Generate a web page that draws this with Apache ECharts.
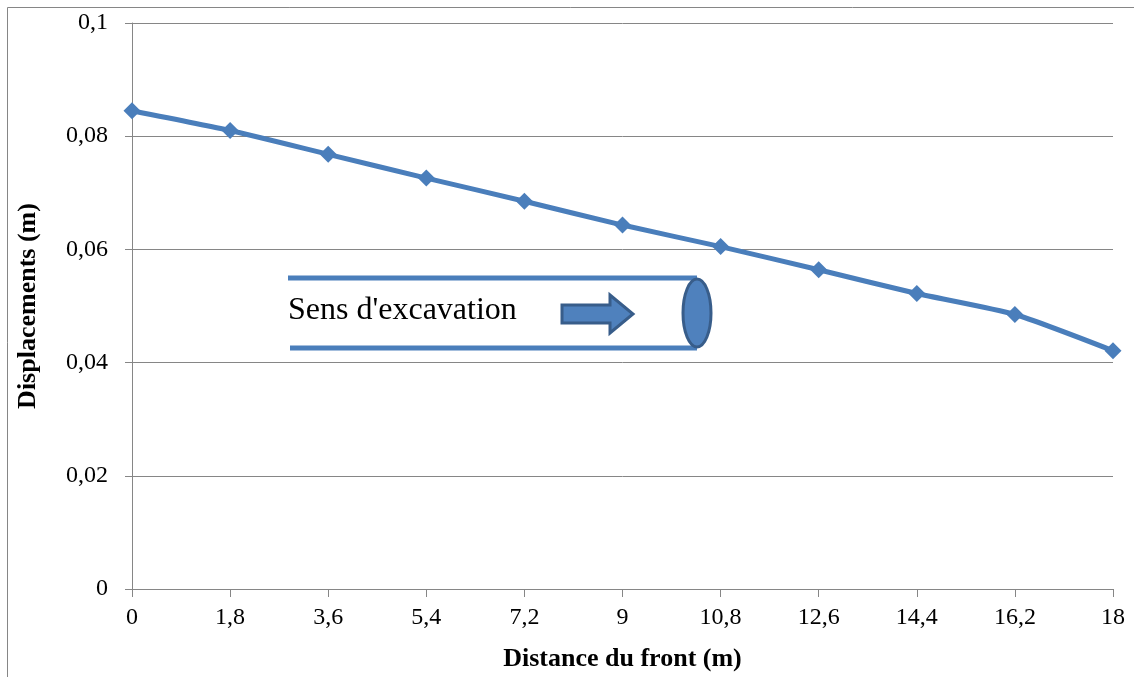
<!DOCTYPE html>
<html>
<head>
<meta charset="utf-8">
<style>
  html, body { margin: 0; padding: 0; background: #fff; }
  #chart { width: 1134px; height: 677px; }
</style>
<script src="https://cdn.jsdelivr.net/npm/echarts@6/dist/echarts.min.js"></script>
</head>
<body>
<div id="chart"></div>
<script>
// Distance from the tunnel face (m)
const distances = [0, 1.8, 3.6, 5.4, 7.2, 9, 10.8, 12.6, 14.4, 16.2, 18];
// Displacements (m)
const displacements = [0.0845, 0.0810, 0.0768, 0.0726, 0.0685, 0.0643, 0.0605, 0.0564, 0.0522, 0.0485, 0.0421];
// Y-axis tick values
const yTicks = [0, 0.02, 0.04, 0.06, 0.08, 0.1];

const frFmt = v => String(v).replace('.', ',');
const serif = '"Liberation Serif", "Times New Roman", serif';
const grey = '#868686';
const blue = '#4a7ebb';
const darkBlue = '#385d8a';

const chart = echarts.init(document.getElementById('chart'));

chart.setOption({
  animation: false,
  backgroundColor: '#fff',
  grid: { left: 132, top: 23, right: 21, bottom: 87 },
  xAxis: {
    type: 'category',
    data: distances.map(frFmt),
    boundaryGap: false,
    name: 'Distance du front (m)',
    nameLocation: 'middle',
    nameGap: 57,
    nameTextStyle: { fontFamily: serif, fontSize: 26, fontWeight: 'bold', color: '#000' },
    axisLine: { lineStyle: { color: grey, width: 1 } },
    axisTick: { show: true, length: 8, alignWithLabel: true, lineStyle: { color: grey } },
    axisLabel: { fontFamily: serif, fontSize: 24, color: '#000', margin: 17 },
    splitLine: { show: false }
  },
  yAxis: {
    type: 'value',
    min: yTicks[0],
    max: yTicks[yTicks.length - 1],
    interval: yTicks[1] - yTicks[0],
    name: 'Displacements (m)',
    nameLocation: 'middle',
    nameGap: 91,
    nameRotate: 90,
    nameTextStyle: { fontFamily: serif, fontSize: 26, fontWeight: 'bold', color: '#000' },
    axisLine: { show: true, lineStyle: { color: grey, width: 1 } },
    axisTick: { show: true, length: 7, inside: false, lineStyle: { color: grey } },
    axisLabel: {
      fontFamily: serif, fontSize: 24, color: '#000', margin: 24,
      formatter: v => frFmt(+v.toFixed(2))
    },
    splitLine: { show: true, lineStyle: { color: grey, width: 1 } }
  },
  series: [{
    type: 'line',
    data: displacements,
    smooth: 0.2,
    symbol: 'diamond',
    symbolSize: 17,
    lineStyle: { color: blue, width: 5 },
    itemStyle: { color: blue },
    z: 5
  }],
  graphic: [
    // outer frame
    { type: 'line', shape: { x1: 7.5, y1: 7.5, x2: 1134, y2: 7.5 }, style: { stroke: grey, lineWidth: 1 } },
    { type: 'line', shape: { x1: 7.5, y1: 7.5, x2: 7.5, y2: 677 }, style: { stroke: grey, lineWidth: 1 } },
    // tunnel walls
    { type: 'line', shape: { x1: 288, y1: 278, x2: 697, y2: 278 }, style: { stroke: blue, lineWidth: 5 }, z: 10 },
    { type: 'line', shape: { x1: 290, y1: 348, x2: 697, y2: 348 }, style: { stroke: blue, lineWidth: 5 }, z: 10 },
    // tunnel face
    { type: 'ellipse', shape: { cx: 697, cy: 313, rx: 14, ry: 34 }, style: { fill: '#4f81bd', stroke: darkBlue, lineWidth: 3 }, z: 11 },
    // direction arrow
    {
      type: 'polygon',
      shape: { points: [[562, 305], [610, 305], [610, 295], [633, 314], [610, 333], [610, 323], [562, 323]] },
      style: { fill: '#4f81bd', stroke: darkBlue, lineWidth: 3 },
      z: 11
    },
    {
      type: 'text', left: 288, top: 295, z: 11,
      style: { text: "Sens d'excavation", font: '32px ' + serif, fill: '#000' }
    }
  ]
});
</script>
</body>
</html>
